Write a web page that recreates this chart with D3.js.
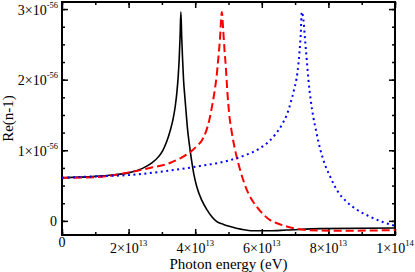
<!DOCTYPE html>
<html>
<head>
<meta charset="utf-8">
<script src="https://cdnjs.cloudflare.com/ajax/libs/d3/7.8.5/d3.min.js"></script>
<style>
body { margin: 0; background: #fff; }
text { font-family: "Liberation Serif", "Times New Roman", serif; fill: #000; }
</style>
</head>
<body>
<div id="chart"></div>
<script>
// Photon energy in units of 1e13 eV, Re(n-1) in units of 1e-56

const blackX = [0, 1, 1.5, 2, 2.4, 2.7, 2.9, 3.03, 3.15, 3.25, 3.33, 3.40, 3.45, 3.49, 3.52, 3.545, 3.57,
    3.595, 3.62, 3.65, 3.69, 3.73, 3.77, 3.82, 3.89, 3.96, 4.05, 4.2, 4.35, 4.5, 4.65, 4.85, 5.05, 5.4, 5.74, 6.2, 6.75, 7.75, 10]
const blackY = [0.61, 0.63, 0.65, 0.68, 0.74, 0.82, 0.91, 1.00, 1.13, 1.28, 1.43, 1.62, 1.82, 2.05, 2.30, 2.60, 2.96,
    2.60, 2.30, 2.00, 1.75, 1.52, 1.30, 1.10, 0.86, 0.66, 0.48, 0.29, 0.16, 0.06, -0.01, -0.05, -0.08, -0.12, -0.14, -0.14, -0.13, -0.11, -0.10]

const redX = [0, 1, 1.94, 2.64, 3.24, 3.6, 3.84, 4.05, 4.20, 4.32, 4.42, 4.52, 4.59, 4.65, 4.69, 4.74, 4.80,
    4.84, 4.88, 4.92, 4.97, 5.02, 5.10, 5.20, 5.35, 5.55, 5.70, 5.85, 6.05, 6.25, 6.5, 6.75, 7.35, 8.5, 10]
const redY = [0.61, 0.62, 0.68, 0.75, 0.82, 0.90, 0.97, 1.06, 1.14, 1.26, 1.42, 1.66, 1.86, 2.08, 2.28, 2.55, 2.96,
    2.71, 2.42, 2.18, 1.80, 1.52, 1.25, 1.00, 0.72, 0.44, 0.30, 0.20, 0.09, 0.01, -0.04, -0.08, -0.13, -0.14, -0.13]

const blueX = [0, 1, 2.04, 3.03, 4.05, 5.05, 5.5, 5.95, 6.2, 6.4, 6.6, 6.75, 6.87, 6.97, 7.07, 7.13, 7.17, 7.20,
    7.25, 7.30, 7.35, 7.40, 7.47, 7.55, 7.62, 7.70, 7.85, 8.05, 8.25, 8.55, 8.85, 9.25, 9.65, 10]
const blueY = [0.61, 0.63, 0.65, 0.70, 0.77, 0.86, 0.93, 1.03, 1.12, 1.22, 1.36, 1.50, 1.68, 1.86, 2.10, 2.38, 2.65, 2.96,
    2.85, 2.56, 2.28, 2.00, 1.71, 1.46, 1.30, 1.12, 0.86, 0.63, 0.44, 0.27, 0.16, 0.06, -0.02, -0.07]

// tick labels: [mantissa, exponent]
const xTicks = [0, 2, 4, 6, 8, 10]
const xTickLabels = [['0', ''], ['2×10', '13'], ['4×10', '13'], ['6×10', '13'], ['8×10', '13'], ['1×10', '14']]
const yTicks = [0, 1, 2, 3]
const yTickLabels = [['0', ''], ['1×10', '-56'], ['2×10', '-56'], ['3×10', '-56']]

const width = 415
const height = 272
const padLeft = 62, padRight = 395, padTop = 2, padBottom = 235

const svg = d3.select('#chart')
.append('svg')
.attr('width', width)
.attr('height', height)

const x = d3.scaleLinear().domain([0, 10]).range([padLeft, padRight])
const y = d3.scaleLinear().domain([-0.2, 3.1]).range([padBottom, padTop])

// ticks point inward on all four sides
function tickGroup(axis, transform) {
    const g = svg.append('g').attr('transform', transform).call(axis)
    g.select('.domain').remove()
    g.selectAll('.tick line').attr('stroke', '#000').attr('stroke-width', 1.5)
    g.selectAll('.tick text').remove()
}

const xMinor = d3.range(0, 10.01, 1)
const yMinor = d3.range(0, 3.01, 0.25)

tickGroup(d3.axisBottom(x).tickValues(xMinor).tickSize(-3), `translate(0,${padBottom})`)
tickGroup(d3.axisBottom(x).tickValues(xTicks).tickSize(-6), `translate(0,${padBottom})`)
tickGroup(d3.axisTop(x).tickValues(xMinor).tickSize(-3), `translate(0,${padTop})`)
tickGroup(d3.axisTop(x).tickValues(xTicks).tickSize(-6), `translate(0,${padTop})`)
tickGroup(d3.axisLeft(y).tickValues(yMinor).tickSize(-3), `translate(${padLeft},0)`)
tickGroup(d3.axisLeft(y).tickValues(yTicks).tickSize(-6), `translate(${padLeft},0)`)
tickGroup(d3.axisRight(y).tickValues(yMinor).tickSize(-3), `translate(${padRight},0)`)
tickGroup(d3.axisRight(y).tickValues(yTicks).tickSize(-6), `translate(${padRight},0)`)

// frame
svg.append('rect')
.attr('x', padLeft)
.attr('y', padTop)
.attr('width', padRight - padLeft)
.attr('height', padBottom - padTop)
.attr('fill', 'none')
.attr('stroke', '#000')
.attr('stroke-width', 2)

// curves
const series = [
    { xs: blackX, ys: blackY, color: '#000', dash: null, w: 1.6 },
    { xs: redX, ys: redY, color: '#ff0000', dash: '8,4', w: 2 },
    { xs: blueX, ys: blueY, color: '#0000ff', dash: '2,3.5', w: 2 }
]

const line = d3.line()
.x(d => x(d[0]))
.y(d => y(d[1]))
.curve(d3.curveMonotoneX)

svg.selectAll('path.curve')
.data(series)
.enter()
.append('path')
.attr('class', 'curve')
.attr('d', s => line(s.xs.map((v, i) => [v, s.ys[i]])))
.attr('fill', 'none')
.attr('stroke', s => s.color)
.attr('stroke-width', s => s.w)
.attr('stroke-dasharray', s => s.dash)

// x tick labels with superscript exponent
xTicks.forEach((t, i) => {
    const lab = xTickLabels[i]
    const txt = svg.append('text')
    .attr('x', x(t))
    .attr('y', lab[1] ? 253 : 247)
    .attr('text-anchor', 'middle')
    .style('font-size', '14px')
    txt.append('tspan').text(lab[0])
    if (lab[1]) txt.append('tspan').attr('dy', -7).style('font-size', '8.5px').text(lab[1])
})

// y tick labels
yTicks.forEach((t, i) => {
    const lab = yTickLabels[i]
    const txt = svg.append('text')
    .attr('x', lab[1] ? 58 : 57)
    .attr('y', y(t) + 5.5)
    .attr('text-anchor', 'end')
    .style('font-size', '14px')
    txt.append('tspan').text(lab[0])
    if (lab[1]) txt.append('tspan').attr('dy', -7).style('font-size', '8.5px').text(lab[1])
})

// axis titles
svg.append('text')
.attr('x', (padLeft + padRight) / 2)
.attr('y', 269)
.attr('text-anchor', 'middle')
.style('font-size', '15px')
.text('Photon energy (eV)')

svg.append('text')
.attr('transform', `translate(13,${(padTop + padBottom) / 2}) rotate(-90)`)
.attr('text-anchor', 'middle')
.style('font-size', '15px')
.text('Re(n-1)')
</script>
</body>
</html>
